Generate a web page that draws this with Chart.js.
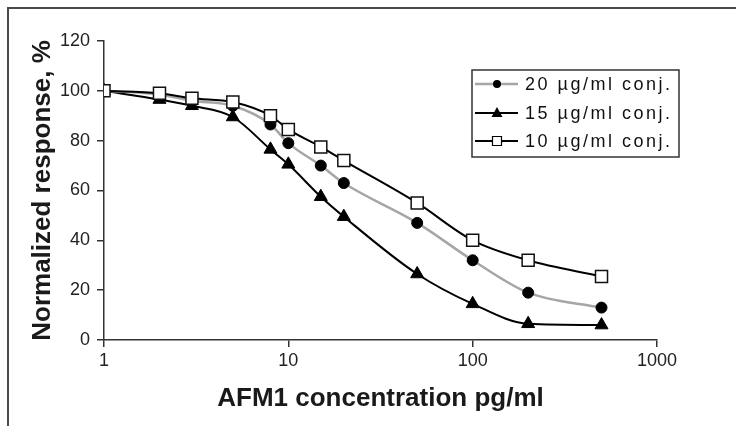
<!DOCTYPE html>
<html>
<head>
<meta charset="utf-8">
<script src="https://cdn.jsdelivr.net/npm/chart.js@4"></script>
<style>
    html, body { margin: 0; padding: 0; background: #fff; overflow: hidden; }
    #wrap { position: relative; width: 736px; height: 426px; }
    #frame { position: absolute; left: 7px; top: 7px; width: 800px; height: 500px; border: 2px solid #4a4a4a; pointer-events: none; }
</style>
</head>
<body>
<div id="wrap">
    <canvas id="chart" width="736" height="426"></canvas>
    <div id="frame"></div>
</div>
<script>
// concentrations, pg/ml
const concentrations = [1, 2, 3, 5, 8, 10, 15, 20, 50, 100, 200, 500];
const conj20 = [100, 98.5, 96, 94, 86.5, 79, 70, 63, 47, 32, 19, 13];
const conj15 = [100, 96.5, 94, 89.5, 76.5, 70.5, 57.5, 49.5, 26.5, 14.5, 6.5, 6];
const conj10 = [100, 99, 97, 95.5, 90, 84.5, 77.5, 72, 55, 40, 32, 25.5];
const seriesLabels = ['20 µg/ml conj.', '15 µg/ml conj.', '10 µg/ml conj.'];
const xTicks = [1, 10, 100, 1000];
const yTicks = [0, 20, 40, 60, 80, 100, 120];

const tickFont = '"Liberation Sans Narrow", "Liberation Sans", Arial, sans-serif';
const titleFont = '"Liberation Sans", Arial, sans-serif';

const toPoints = values => values.map((v, i) => ({ x: concentrations[i], y: v }));

/**
 * Legend inside the plot, drawn by hand since Chart.js keeps its legend outside.
 */
const insideLegend = {
    id: 'insideLegend',
    afterDraw(chart) {
        const ctx = chart.ctx;
        ctx.save();
        ctx.letterSpacing = '2.5px';
        ctx.fillStyle = '#fff';
        ctx.strokeStyle = '#333';
        ctx.lineWidth = 1.5;
        ctx.fillRect(472, 70, 207, 87);
        ctx.strokeRect(472, 70, 207, 87);

        const rows = [84, 113, 141];
        chart.data.datasets.forEach((ds, i) => {
            const y = rows[i];
            ctx.strokeStyle = ds.borderColor;
            ctx.lineWidth = ds.borderWidth;
            ctx.beginPath();
            ctx.moveTo(475, y);
            ctx.lineTo(518, y);
            ctx.stroke();

            ctx.fillStyle = ds.pointBackgroundColor;
            ctx.strokeStyle = '#000';
            ctx.lineWidth = 1.2;
            ctx.beginPath();
            if (ds.pointStyle === 'circle') {
                ctx.arc(497, y, 4, 0, Math.PI * 2);
                ctx.fill();
            } else if (ds.pointStyle === 'triangle') {
                ctx.moveTo(497, y - 6);
                ctx.lineTo(502.5, y + 4);
                ctx.lineTo(491.5, y + 4);
                ctx.closePath();
                ctx.fill();
            } else {
                ctx.rect(492.5, y - 4.5, 9, 9);
                ctx.fill();
                ctx.stroke();
            }

            ctx.fillStyle = '#111';
            ctx.font = '18px ' + titleFont;
            ctx.textBaseline = 'middle';
            ctx.textAlign = 'left';
            ctx.fillText(ds.label, 525, y + 1);
        });
        ctx.restore();
    }
};

new Chart(document.getElementById('chart'), {
    type: 'line',
    data: {
        datasets: [
            {
                label: seriesLabels[0],
                data: toPoints(conj20),
                borderColor: '#a6a6a6',
                borderWidth: 2.5,
                pointStyle: 'circle',
                pointRadius: 5.5,
                pointBackgroundColor: '#000',
                pointBorderColor: '#000',
                pointBorderWidth: 1,
                order: 2
            },
            {
                label: seriesLabels[1],
                data: toPoints(conj15),
                borderColor: '#000',
                borderWidth: 2,
                pointStyle: 'triangle',
                pointRadius: 7.5,
                pointBackgroundColor: '#000',
                pointBorderColor: '#000',
                pointBorderWidth: 1,
                order: 3
            },
            {
                label: seriesLabels[2],
                data: toPoints(conj10),
                borderColor: '#000',
                borderWidth: 2,
                pointStyle: 'rect',
                pointRadius: 8.5,
                pointBackgroundColor: '#fff',
                pointBorderColor: '#111',
                pointBorderWidth: 1.5,
                order: 1
            }
        ]
    },
    options: {
        responsive: false,
        animation: false,
        events: [],
        layout: { padding: { left: 0, top: 41, right: 79, bottom: 0 } },
        plugins: {
            legend: { display: false },
            tooltip: { enabled: false }
        },
        elements: { line: { cubicInterpolationMode: 'monotone' } },
        scales: {
            x: {
                type: 'logarithmic',
                min: 1,
                max: 1000,
                afterFit: s => { s.height = 86; },
                afterBuildTicks: s => { s.ticks = xTicks.map(v => ({ value: v })); },
                border: { display: true, color: '#333', width: 1.5 },
                grid: { drawOnChartArea: false, drawTicks: true, tickLength: 7, color: '#333', lineWidth: 1.5 },
                ticks: {
                    color: '#222',
                    padding: 3,
                    maxRotation: 0,
                    autoSkip: false,
                    font: { family: tickFont, size: 18 },
                    callback: v => String(v)
                },
                title: {
                    display: true,
                    text: 'AFM1 concentration pg/ml',
                    color: '#1a1a1a',
                    padding: { top: 0, bottom: 12 },
                    font: { family: titleFont, size: 26, weight: 'bold' }
                }
            },
            y: {
                min: 0,
                max: 120,
                afterFit: s => { s.width = 104; },
                afterBuildTicks: s => { s.ticks = yTicks.map(v => ({ value: v })); },
                border: { display: true, color: '#333', width: 1.5 },
                grid: { drawOnChartArea: false, drawTicks: true, tickLength: 7, color: '#333', lineWidth: 1.5 },
                ticks: {
                    color: '#222',
                    padding: 7,
                    font: { family: tickFont, size: 18 }
                },
                title: {
                    display: true,
                    text: 'Normalized response, %',
                    color: '#1a1a1a',
                    padding: { top: 27, bottom: 0 },
                    font: { family: titleFont, size: 26, weight: 'bold' }
                }
            }
        }
    },
    plugins: [insideLegend]
});
</script>
</body>
</html>
